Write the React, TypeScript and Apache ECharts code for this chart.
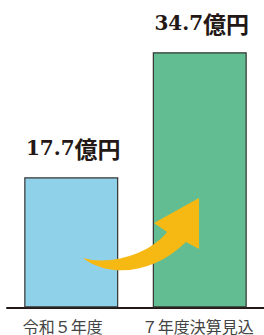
import React, { useEffect, useRef } from "react";
import * as echarts from "echarts";

const categories = ["令和５年度", "７年度決算見込"];
const values = [17.7, 34.7];
const unit = "億円";
const barColors = ["#90D1EA", "#62BD92"];

const arrowPath =
  "M83 258 C110 279 155 273 186 242 L199 249 L199 198 L154 223 L167 232 C150 254 110 266 83 258 Z";

let registered = false;

export default function App() {
  const ref = useRef<HTMLDivElement>(null);
  useEffect(() => {
    if (!ref.current) return;
    if (!registered) {
      echarts.graphic.registerShape("arrowShape", echarts.graphic.extendPath(arrowPath, {}));
      registered = true;
    }
    const chart = echarts.init(ref.current, null, { renderer: "svg" });
    chart.setOption({
      animation: false,
      grid: { left: 7, width: 261, top: 0, bottom: 27.5, containLabel: false },
      xAxis: {
        type: "category",
        data: categories,
        axisLine: { show: true, lineStyle: { color: "#231815", width: 2 } },
        axisTick: { show: false },
        axisLabel: {
          interval: 0,
          hideOverlap: false,
          margin: 11,
          fontSize: 16,
          lineHeight: 15,
          color: "#444",
          fontFamily: "Noto Sans CJK JP",
          formatter: (v: string, i: number) => (i === 0 ? `{l|${v}}` : `{r|${v}}`),
          rich: {
            l: { fontSize: 16, lineHeight: 15, color: "#444", fontFamily: "Noto Sans CJK JP", padding: [0, 17, 0, 0] },
            r: { fontSize: 16, lineHeight: 15, color: "#444", fontFamily: "Noto Sans CJK JP", padding: [0, 4, 0, 0] },
          },
        },
      },
      yAxis: {
        type: "value",
        min: 0,
        max: 41.8,
        show: false,
        splitLine: { show: false },
      },
      series: [
        {
          type: "bar",
          barWidth: 94,
          data: values.map((v, i) => ({
            value: v,
            itemStyle: { color: barColors[i], borderColor: "#333", borderWidth: 1.2 },
          })),
          label: {
            show: true,
            position: "top",
            distance: 18,
            offset: [2, 0],
            formatter: (p: any) => `{n|${p.value}}{u|${unit}}`,
            rich: {
              n: { fontFamily: "DejaVu Serif", fontWeight: "bold", fontSize: 20, color: "#231815" },
              u: { fontFamily: "Noto Sans CJK JP", fontWeight: "bold", fontSize: 23, color: "#231815" },
            },
          },
        },
      ],
      graphic: [
        {
          type: "arrowShape",
          x: 0,
          y: 0,
          z: 100,
          style: { fill: "#F6B914" },
        },
      ],
    });
    return () => chart.dispose();
  }, []);
  return (
    <div
      ref={ref}
      style={{ position: "absolute", left: 0, top: 0, width: 264, height: 335 }}
    />
  );
}
